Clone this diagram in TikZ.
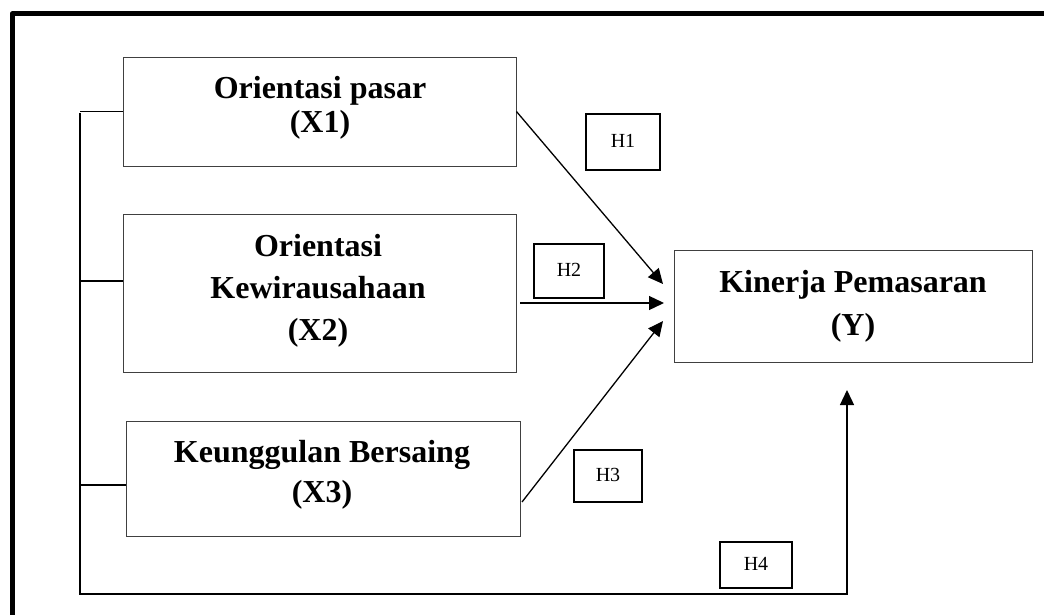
\documentclass[tikz,border=0pt]{standalone}
\usepackage{fontspec}
\setmainfont{Liberation Serif}
\usetikzlibrary{arrows.meta,calc}
\begin{document}
\begin{tikzpicture}[x=1pt,y=-1pt,
  box/.style={draw=black!75,line width=0.9pt,inner sep=0pt,anchor=center},
  hbox/.style={draw=black,line width=1.2pt,inner sep=0pt,anchor=center,
    font=\fontsize{20}{24}\selectfont,text height=13pt,text depth=3pt},
  btxt/.style={inner sep=0pt,anchor=base,font=\fontsize{32}{38}\selectfont\bfseries},
  conn/.style={draw=black,line width=1.3pt},
  arr/.style={conn,-{Triangle[length=15pt,width=14pt]}}]
\useasboundingbox (0,0) rectangle (1044,615);
% outer frame (cropped)
\draw[line width=5pt,line join=round] (12,620) -- (12,14) -- (1050,14);
% boxes
\node[box,minimum width=393pt,minimum height=109pt] (X1) at (319.5,111.5) {};
\node[box,minimum width=393pt,minimum height=158pt] (X2) at (319.5,293) {};
\node[box,minimum width=394pt,minimum height=115pt] (X3) at (323,478.5) {};
\node[box,minimum width=358pt,minimum height=112pt] (Y) at (853,306) {};
% texts
\node[btxt] (x1a) at (320,99) {Orientasi pasar};
\node[btxt] (x1b) at (320,132) {(X1)};
\node[btxt] (x2a) at (318,256) {Orientasi};
\node[btxt] (x2b) at (318,298) {Kewirausahaan};
\node[btxt] (x2c) at (318,340) {(X2)};
\node[btxt] (x3a) at (322,462) {Keunggulan Bersaing};
\node[btxt] (x3b) at (322,502) {(X3)};
\node[btxt] (ya) at (853,292) {Kinerja Pemasaran};
\node[btxt] (yb) at (853,335) {(Y)};
% hypothesis labels
\node[hbox,minimum width=74pt,minimum height=56pt] (H1) at (623,142) {H1};
\node[hbox,minimum width=70pt,minimum height=54pt] (H2) at (569,271) {H2};
\node[hbox,minimum width=68pt,minimum height=52pt] (H3) at (608,476) {H3};
\node[hbox,minimum width=72pt,minimum height=46pt] (H4) at (756,565) {H4};
% arrow end points
\coordinate (t1) at (663,284);
\coordinate (t2) at (664,303);
\coordinate (t3) at (663,321);
\coordinate (s2) at (520,303);
\coordinate (s3) at (522,502);
\coordinate (bt) at (80,113);
\coordinate (bb) at (80,594);
\coordinate (c4) at (847,594);
\coordinate (t4) at (847,390);
\coordinate (w1) at (X1.west);
\coordinate (w2) at ([yshift=12pt]X2.west);
\coordinate (w3) at ([yshift=-6.5pt]X3.west);
% arrows
\draw[arr] (X1.east) -- (t1);
\draw[arr] (s2) -- (t2);
\draw[arr] (s3) -- (t3);
% left bus
\draw[conn] (w1) -- (bt |- w1);
\draw[conn] (w2) -- (bt |- w2);
\draw[conn] (w3) -- (bt |- w3);
\draw[arr] (bt) -- (bb) -- (c4) -- (t4);
\end{tikzpicture}
\end{document}
